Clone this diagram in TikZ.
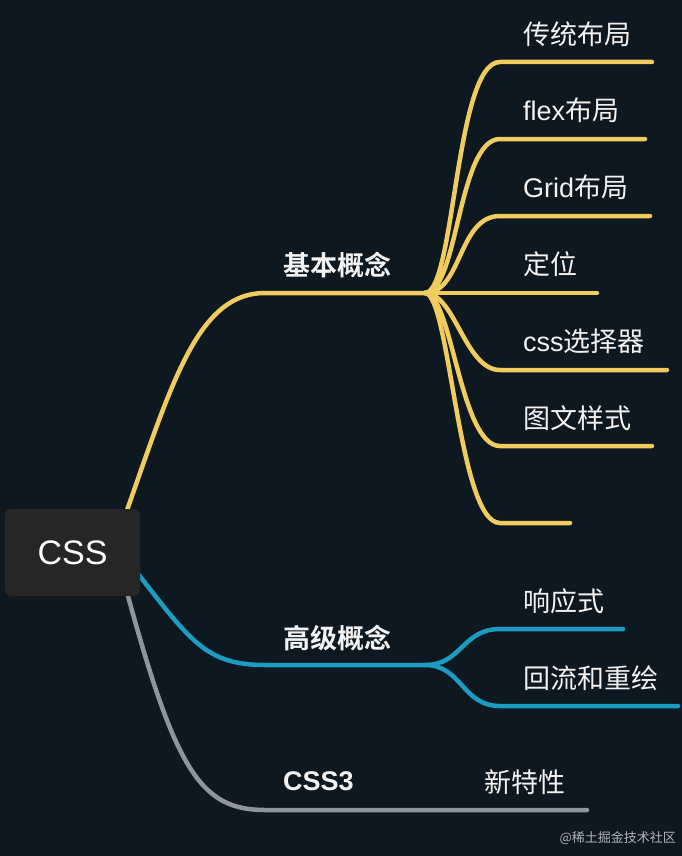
\documentclass[tikz,border=0pt]{standalone}
\usepackage{fontspec}
\setmainfont{Noto Sans CJK SC}
\newfontfamily\cjkb{Noto Sans CJK SC Bold}
\newfontfamily\lat{Liberation Sans}
\definecolor{bgc}{HTML}{0D1820}
\definecolor{boxc}{HTML}{262626}
\definecolor{yel}{HTML}{F0CC5E}
\definecolor{blu}{HTML}{1B9CC0}
\definecolor{gry}{HTML}{8E959D}
\definecolor{txt}{HTML}{F2F2F2}
\begin{document}
\begin{tikzpicture}[x=1pt,y=-1pt,
  lbl/.style={anchor=west,inner sep=0pt,text=txt,font=\fontsize{27}{32}\selectfont},
  mlbl/.style={anchor=west,inner sep=0pt,text=txt,font=\cjkb\fontsize{27}{32}\selectfont},
  br/.style={line width=4.5pt,line cap=round},
]
\useasboundingbox (0,0) rectangle (682,856);
\fill[bgc] (0,0) rectangle (682,856);

% coordinates
\coordinate (yh) at (425,293);
\coordinate (bh) at (425,665);
\coordinate (gs) at (265,810);
\coordinate (ys) at (265,293);
\coordinate (bs) at (265,665);
\coordinate (e1) at (652,62);
\coordinate (e2) at (645,139);
\coordinate (e3) at (650,216);
\coordinate (e4) at (597,293);
\coordinate (e5) at (667,370);
\coordinate (e6) at (652,446);
\coordinate (e7) at (570,523);
\coordinate (f1) at (623,629);
\coordinate (f2) at (678,706);
\coordinate (g1) at (587,810);

% main branches
\draw[br,yel] (120,530) .. controls (170,390) and (195,293) .. (ys) -- (yh);
\draw[br,blu] (135,570) .. controls (190,640) and (205,665) .. (bs) -- (bh);
\draw[br,gry] (125,585) .. controls (175,770) and (200,810) .. (gs) -- (g1);

% yellow sub-branches
\draw[br,yel] (yh) .. controls (455,293) and (455,62) .. (500,62) -- (e1);
\draw[br,yel] (yh) .. controls (458,293) and (458,139) .. (500,139) -- (e2);
\draw[br,yel] (yh) .. controls (462,293) and (458,216) .. (500,216) -- (e3);
\draw[br,yel] (yh) -- (e4);
\draw[br,yel] (yh) .. controls (455,293) and (465,370) .. (500,370) -- (e5);
\draw[br,yel] (yh) .. controls (452,293) and (460,446) .. (500,446) -- (e6);
\draw[br,yel] (yh) .. controls (450,293) and (458,523) .. (500,523) -- (e7);

% blue sub-branches
\draw[br,blu] (bh) .. controls (462,665) and (462,629) .. (500,629) -- (f1);
\draw[br,blu] (bh) .. controls (462,665) and (462,706) .. (500,706) -- (f2);

% root box
\node[fill=boxc,rounded corners=6pt,minimum width=135pt,minimum height=87pt,inner sep=0pt,
  text=white,font=\lat\fontsize{34}{40}\selectfont] (css) at (72.5,552.5) {CSS};

% labels
\node[mlbl] (l0) at (283,265) {基本概念};
\node[mlbl] (m0) at (283,638) {高级概念};
\node[mlbl,font=\lat\bfseries\fontsize{27}{32}\selectfont] (n0) at (283,781) {CSS3};

\node[lbl] (l1) at (523,34) {传统布局};
\node[lbl] (l2) at (523,110) {{\lat flex}布局};
\node[lbl] (l3) at (523,187) {{\lat Grid}布局};
\node[lbl] (l4) at (523,264) {定位};
\node[lbl] (l5) at (523,341) {{\lat css}选择器};
\node[lbl] (l6) at (523,418) {图文样式};
\node[lbl] (m1) at (523,601) {响应式};
\node[lbl] (m2) at (523,678) {回流和重绘};
\node[lbl] (n1) at (484,782) {新特性};

\node[anchor=east,inner sep=0pt,text=gry!70,font=\fontsize{13}{15}\selectfont] (wm) at (676,838) {@稀土掘金技术社区};
\end{tikzpicture}
\end{document}
